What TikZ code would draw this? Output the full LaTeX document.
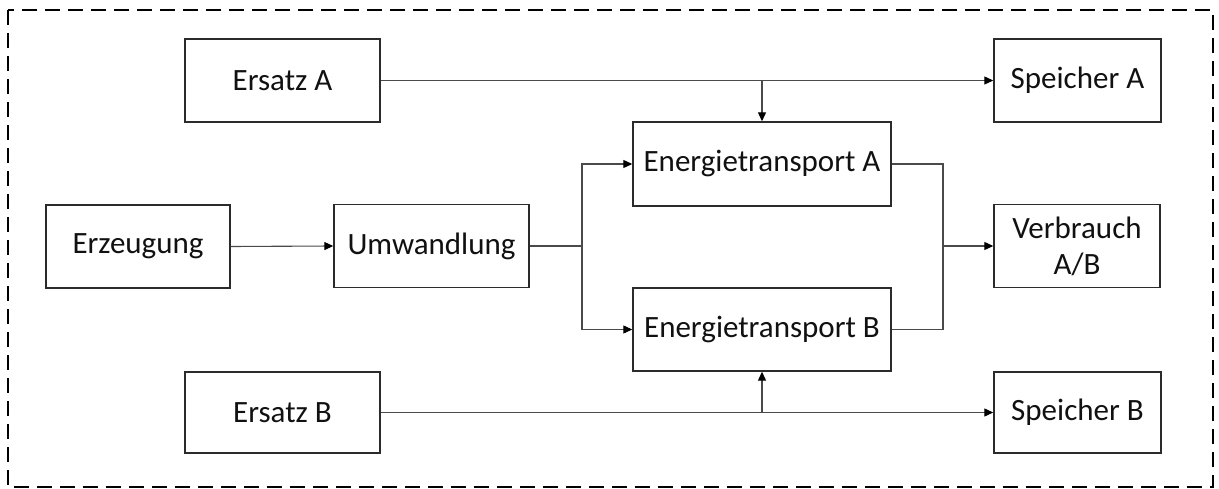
\documentclass[tikz,border=0pt]{standalone}
\usepackage{fontspec}
\setmainfont{Carlito}
\usetikzlibrary{arrows.meta}
\definecolor{boxline}{HTML}{2B2B2B}
\definecolor{wire}{HTML}{4A4A4A}
\definecolor{txt}{HTML}{111111}
\tikzset{
  block/.style={draw=boxline, line width=1.4pt, fill=white, text=txt,
    inner sep=0pt, align=center, font=\fontsize{31}{36}\selectfont},
  wirebase/.style={draw=wire, line width=1.1pt},
  flow/.style={wirebase, -{Triangle[length=9pt,width=8pt,color=black,fill=black]}},
  frame/.style={draw=black, line width=2pt, dash pattern=on 15pt off 8pt}
}
\begin{document}
\begin{tikzpicture}[x=1pt,y=-1pt]
\useasboundingbox (0,0) rectangle (1219,489);
\draw[frame] (8,10) rectangle (1213,487);

\node[block, minimum width=195pt, minimum height=83pt] (ersA) at (282.5,80.5) {Ersatz A};
\node[block, minimum width=167pt, minimum height=83pt] (spA) at (1077.5,80.5) {Speicher A};
\node[block, minimum width=258pt, minimum height=84pt] (etA) at (762,164) {Energietransport A};
\node[block, minimum width=184pt, minimum height=83pt] (erz) at (138,246.5) {Erzeugung};
\node[block, minimum width=195pt, minimum height=83pt] (umw) at (431.5,246) {Umwandlung};
\node[block, minimum width=166pt, minimum height=83pt] (verb) at (1077,246) {Verbrauch\\A/B};
\node[block, minimum width=258pt, minimum height=83pt] (etB) at (762,329.5) {Energietransport B};
\node[block, minimum width=195pt, minimum height=81pt] (ersB) at (282.5,412.5) {Ersatz B};
\node[block, minimum width=167pt, minimum height=81pt] (spB) at (1077.5,412.5) {Speicher B};

% junction points
\coordinate (tapA) at (etA.north |- ersA.east);
\coordinate (tapB) at (etB.south |- ersB.east);
\coordinate (split) at (582,246);
\coordinate (merge) at (943,246);

% upper supply line
\draw[flow] (ersA.east) -- (spA.west);
\draw[flow] (tapA) -- (etA.north);

% generation chain
\draw[flow] (erz.east) -- (umw.west);
\draw[wirebase] (umw.east) -- (split);
\draw[flow] (split) |- (etA.west);
\draw[flow] (split) |- (etB.west);

% merge into consumption
\draw[wirebase] (etA.east) -| (merge);
\draw[wirebase] (etB.east) -| (merge);
\draw[flow] (merge) -- (verb.west);

% lower supply line
\draw[flow] (ersB.east) -- (spB.west);
\draw[flow] (tapB) -- (etB.south);
\end{tikzpicture}
\end{document}
